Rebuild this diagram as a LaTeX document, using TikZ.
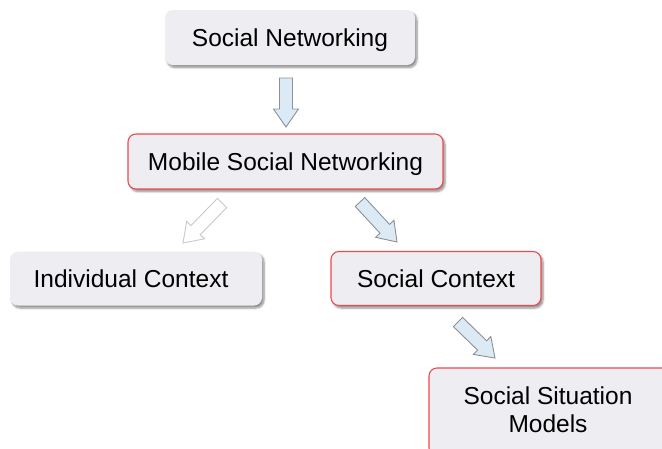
\documentclass[tikz,border=0pt]{standalone}
\usepackage{fontspec}
\setmainfont{Liberation Sans}
\usetikzlibrary{calc,shadows.blur}
\definecolor{boxfill}{HTML}{EDEDF2}
\definecolor{redline}{HTML}{EE4A50}
\definecolor{arrowfill}{HTML}{DCEAF5}
\definecolor{arrowline}{HTML}{8E9094}
\definecolor{paleline}{HTML}{C8C8C8}
\tikzset{
  box/.style={rectangle, rounded corners=8pt, fill=boxfill, font=\fontsize{24.5}{28}\selectfont,
    text depth=0pt,
    blur shadow={shadow xshift=2pt, shadow yshift=-2.5pt, shadow blur steps=6, shadow opacity=45}},
  redbox/.style={box, draw=redline, line width=1.1pt},
  plainbox/.style={box, draw=none},
  bluearrow/.style={fill=arrowfill, draw=arrowline, line width=0.9pt, line join=miter},
  palearrow/.style={fill=white, draw=paleline, line width=0.9pt, line join=miter},
}
\newcommand\barrow[3]{%
  \coordinate (hb) at ($(#3)!18pt!(#2)$);
  \draw[#1] ($(#2)!6.5pt!90:(#3)$) -- ($(hb)!6.5pt!-90:(#2)$) -- ($(hb)!12.5pt!-90:(#2)$)
    -- (#3) -- ($(hb)!12.5pt!90:(#2)$) -- ($(hb)!6.5pt!90:(#2)$) -- ($(#2)!6.5pt!-90:(#3)$) -- cycle;}
\begin{document}
\begin{tikzpicture}[x=1pt,y=-1pt]
\useasboundingbox (0,0) rectangle (662,448);
\clip (0,0) rectangle (662,448);
\node[plainbox, minimum width=250pt, minimum height=55pt] (sn) at (290,37.5) {Social Networking};
\node[redbox, minimum width=315pt, minimum height=55pt] (msn) at (285.5,161.5) {Mobile Social Networking};
\node[plainbox, minimum width=252pt, minimum height=54pt] (ic) at (136,278.5) {\hspace*{-10pt}Individual Context};
\node[redbox, minimum width=210pt, minimum height=54pt] (sc) at (436,278.5) {Social Context};
\node[redbox, minimum width=244pt, minimum height=88pt, align=center] (ssm) at (551,412) {};
\node[font=\fontsize{24.5}{28}\selectfont, align=center] (ssmt) at (548,410) {Social Situation\\Models};
\coordinate (a1t) at (286,78);  \coordinate (a1h) at (286,127);
\coordinate (a2t) at (222,203); \coordinate (a2h) at (183,243);
\coordinate (a3t) at (360,202); \coordinate (a3h) at (397,242);
\coordinate (a4t) at (458,322); \coordinate (a4h) at (495,358);
\barrow{bluearrow}{a1t}{a1h}
\barrow{palearrow}{a2t}{a2h}
\barrow{bluearrow}{a3t}{a3h}
\barrow{bluearrow}{a4t}{a4h}
\end{tikzpicture}
\end{document}
